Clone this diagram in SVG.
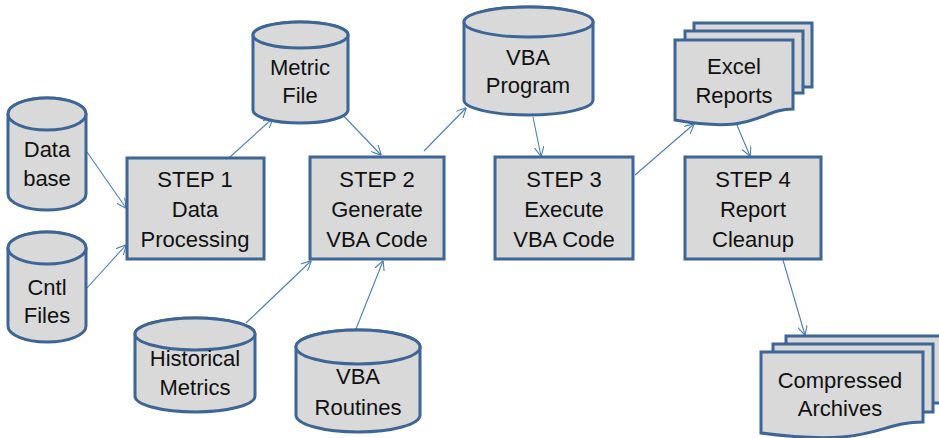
<svg xmlns="http://www.w3.org/2000/svg" width="939" height="438" viewBox="0 0 939 438">
<style>
.shape{fill:#d9d9d9;stroke:#3d6596;stroke-width:3}
.txt{font-family:"Liberation Sans",Arial,sans-serif;font-size:22px;fill:#111;text-anchor:middle}
.conn{stroke:#4a7ebb;stroke-width:1.1;fill:none;marker-end:url(#arr)}
</style>
<defs>
<marker id="arr" viewBox="0 0 10 10" refX="9.5" refY="5" markerWidth="10" markerHeight="10" markerUnits="userSpaceOnUse" orient="auto">
<path d="M0,0 L10,5 L0,10" fill="none" stroke="#4a7ebb" stroke-width="1.1"/>
</marker>
</defs>
<rect width="939" height="438" fill="#fff"/>
<g id="connectors">
<line class="conn" x1="87" y1="152" x2="126" y2="208"/>
<line class="conn" x1="87" y1="288" x2="126" y2="245"/>
<line class="conn" x1="230" y1="157" x2="273" y2="118"/>
<line class="conn" x1="338" y1="110" x2="381" y2="155"/>
<line class="conn" x1="424" y1="151" x2="466" y2="108"/>
<line class="conn" x1="533" y1="117" x2="541" y2="156"/>
<line class="conn" x1="635" y1="175" x2="694" y2="124"/>
<line class="conn" x1="734" y1="118" x2="750" y2="156"/>
<line class="conn" x1="783" y1="260" x2="805" y2="335"/>
<line class="conn" x1="246" y1="323" x2="311" y2="261"/>
<line class="conn" x1="354" y1="334" x2="383" y2="261"/>
</g>
<g id="database">
<path class="shape" d="M8,114 A39,16 0 0 1 86,114 V194 A39,16 0 0 1 8,194 Z"/>
<ellipse class="shape" cx="47" cy="114" rx="39" ry="16"/>
<text class="txt" x="47" y="157">Data</text>
<text class="txt" x="47" y="186">base</text>
</g>
<g id="cntl-files">
<path class="shape" d="M8,248 A39,16 0 0 1 86,248 V326 A39,16 0 0 1 8,326 Z"/>
<ellipse class="shape" cx="47" cy="248" rx="39" ry="16"/>
<text class="txt" x="47" y="295">Cntl</text>
<text class="txt" x="47" y="323">Files</text>
</g>
<g id="metric-file">
<path class="shape" d="M253,35 A47.5,13 0 0 1 348,35 V110 A47.5,13 0 0 1 253,110 Z"/>
<ellipse class="shape" cx="300.5" cy="35" rx="47.5" ry="13"/>
<text class="txt" x="300" y="75">Metric</text>
<text class="txt" x="300" y="103">File</text>
</g>
<g id="vba-program">
<path class="shape" d="M464,22 A64.5,15 0 0 1 593,22 V100 A64.5,15 0 0 1 464,100 Z"/>
<ellipse class="shape" cx="528.5" cy="22" rx="64.5" ry="15"/>
<text class="txt" x="528" y="65">VBA</text>
<text class="txt" x="528" y="93">Program</text>
</g>
<g id="excel-reports">
<rect class="shape" x="694" y="23" width="118" height="64"/>
<rect class="shape" x="685" y="31" width="118" height="62"/>
<path class="shape" d="M675,40 H793 V109 C759,109 759,135 675,120 Z"/>
<text class="txt" x="734" y="74">Excel</text>
<text class="txt" x="734" y="103">Reports</text>
</g>
<g id="step1">
<rect class="shape" x="127" y="158" width="137" height="101"/>
<text class="txt" x="195" y="187">STEP 1</text>
<text class="txt" x="195" y="217">Data</text>
<text class="txt" x="195" y="247">Processing</text>
</g>
<g id="step2">
<rect class="shape" x="310" y="157" width="134" height="102"/>
<text class="txt" x="377" y="187">STEP 2</text>
<text class="txt" x="377" y="217">Generate</text>
<text class="txt" x="377" y="247">VBA Code</text>
</g>
<g id="step3">
<rect class="shape" x="495" y="157" width="138" height="102"/>
<text class="txt" x="564" y="187">STEP 3</text>
<text class="txt" x="564" y="217">Execute</text>
<text class="txt" x="564" y="247">VBA Code</text>
</g>
<g id="step4">
<rect class="shape" x="685" y="157" width="136" height="102"/>
<text class="txt" x="753" y="187">STEP 4</text>
<text class="txt" x="753" y="217">Report</text>
<text class="txt" x="753" y="247">Cleanup</text>
</g>
<g id="historical-metrics">
<path class="shape" d="M135,334 A60,16 0 0 1 255,334 V396 A60,16 0 0 1 135,396 Z"/>
<ellipse class="shape" cx="195" cy="334" rx="60" ry="16"/>
<text class="txt" x="195" y="366">Historical</text>
<text class="txt" x="195" y="395">Metrics</text>
</g>
<g id="vba-routines">
<path class="shape" d="M296,347 A62,17 0 0 1 420,347 V415 A62,17 0 0 1 296,415 Z"/>
<ellipse class="shape" cx="358" cy="347" rx="62" ry="17"/>
<text class="txt" x="358" y="384">VBA</text>
<text class="txt" x="358" y="415">Routines</text>
</g>
<g id="compressed-archives">
<rect class="shape" x="786" y="336" width="162" height="67"/>
<rect class="shape" x="773" y="344" width="160" height="68"/>
<path class="shape" d="M761,352 H923 V422 C876,422 876,448 761,433 Z"/>
<text class="txt" x="840" y="388">Compressed</text>
<text class="txt" x="840" y="416">Archives</text>
</g>
</svg>
